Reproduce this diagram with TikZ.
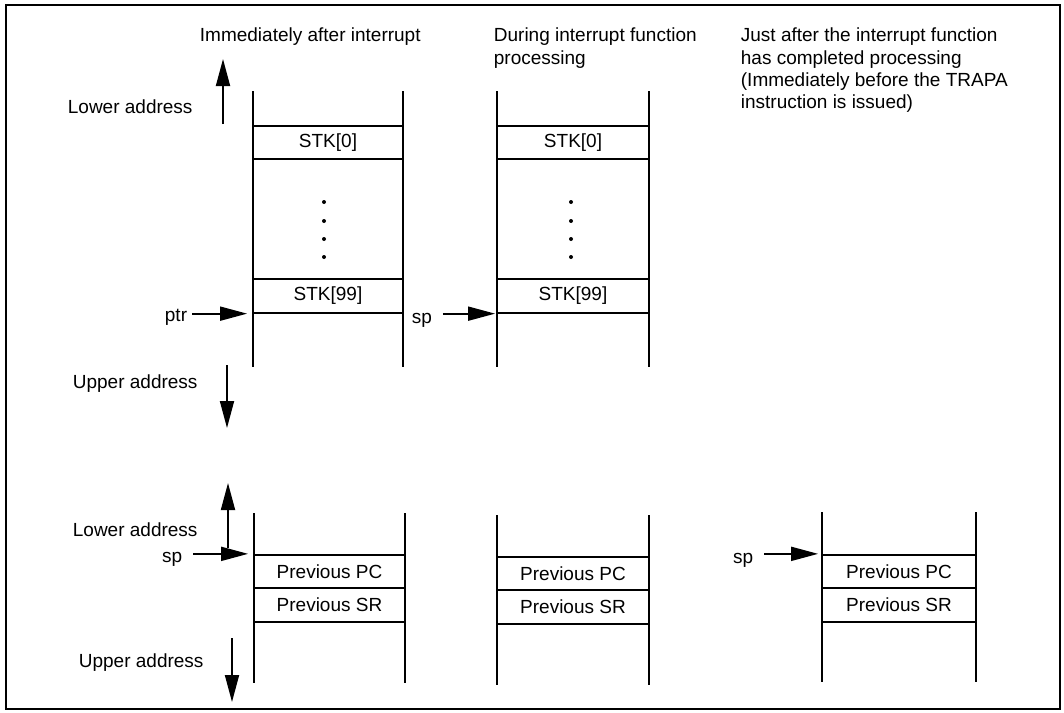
\documentclass[tikz,border=0pt]{standalone}
\usepackage{fontspec}
\setmainfont{Liberation Sans}
\usetikzlibrary{arrows.meta}

\tikzset{
  cell/.style={rectangle,draw,minimum width=151pt,minimum height=33.5pt},
  addr/.style={anchor=base west},
}

\begin{document}
\begin{tikzpicture}[x=1pt,y=-1pt,line width=1.8pt,
    every node/.style={font=\fontsize{19}{22.4}\selectfont,inner sep=0pt},
    >={Triangle[length=27pt,width=14pt]}]
        \useasboundingbox (0,0) rectangle (1064,712);
        \draw[line width=1.3pt] (6,5) rectangle (1060,709);

        % headings
        \node[anchor=north west] (T1) at (199,27) {Immediately after interrupt};
        \node[anchor=north west,align=left] (T2) at (493,27) {During interrupt function\\processing};
        \node[anchor=north west,align=left] (T3) at (740,27) {Just after the interrupt function\\has completed processing\\(Immediately before the TRAPA\\instruction is issued)};

        % upper stacks
        \draw (253,91) -- (253,367) (403,91) -- (403,367);
        \draw (497,91) -- (497,367) (649,91) -- (649,367);
        \node[cell,minimum width=150pt] (A0) at (328,142.5) {STK[0]};
        \node[cell,minimum width=150pt] (A99) at (328,296) {STK[99]};
        \node[cell,minimum width=152pt] (B0) at (573,142.5) {STK[0]};
        \node[cell,minimum width=152pt] (B99) at (573,296) {STK[99]};
        \foreach \y in {202,221,239,257} {
            \fill (324,\y) circle (2);
            \fill (571,\y) circle (2);
        }

        \node[addr] (Lo1) at (67,113) {Lower address};
        \node[addr] (Up1) at (72,388) {Upper address};
        \coordinate (lo1a) at (223,124);
        \coordinate (lo1b) at (223,59);
        \coordinate (up1a) at (227,365);
        \coordinate (up1b) at (227,428);
        \draw[->] (lo1a) -- (lo1b);
        \draw[->] (up1a) -- (up1b);

        \node[anchor=base east] (ptr) at (188,321) {ptr};
        \node[anchor=base west] (sp1) at (411,323) {sp};
        \draw[->,shorten >=5pt] ([xshift=4pt]ptr.east |- A99.south west) -- (A99.south west);
        \draw[->,shorten >=1pt] ([xshift=10pt]sp1.east |- B99.south west) -- (B99.south west);

        % lower stacks
        \draw (254,513) -- (254,683) (405,513) -- (405,683);
        \draw (497,515) -- (497,685) (649,515) -- (649,685);
        \draw (822,512) -- (822,682) (976,512) -- (976,682);
        \node[cell] (Cpc) at (329.5,571.5) {Previous PC};
        \node[cell] (Csr) at (329.5,605) {Previous SR};
        \node[cell,minimum width=152pt] (Dpc) at (573,573.5) {Previous PC};
        \node[cell,minimum width=152pt] (Dsr) at (573,607) {Previous SR};
        \node[cell,minimum width=154pt] (Epc) at (899,571.5) {Previous PC};
        \node[cell,minimum width=154pt] (Esr) at (899,605) {Previous SR};

        \node[addr] (Lo2) at (72,536) {Lower address};
        \node[addr] (Up2) at (78,667) {Upper address};
        \coordinate (lo2a) at (228,548);
        \coordinate (lo2b) at (228,483);
        \coordinate (up2a) at (232,638);
        \coordinate (up2b) at (232,702);
        \draw[->] (lo2a) -- (lo2b);
        \draw[->] (up2a) -- (up2b);

        \node[anchor=base east] (sp2) at (183,562) {sp};
        \node[anchor=base east] (sp3) at (754,563) {sp};
        \draw[->,shorten >=5pt] ([xshift=10pt]sp2.east |- Cpc.north west) -- (Cpc.north west);
        \draw[->,shorten >=3pt] ([xshift=10pt]sp3.east |- Epc.north west) -- (Epc.north west);

    \end{tikzpicture}
\end{document}
